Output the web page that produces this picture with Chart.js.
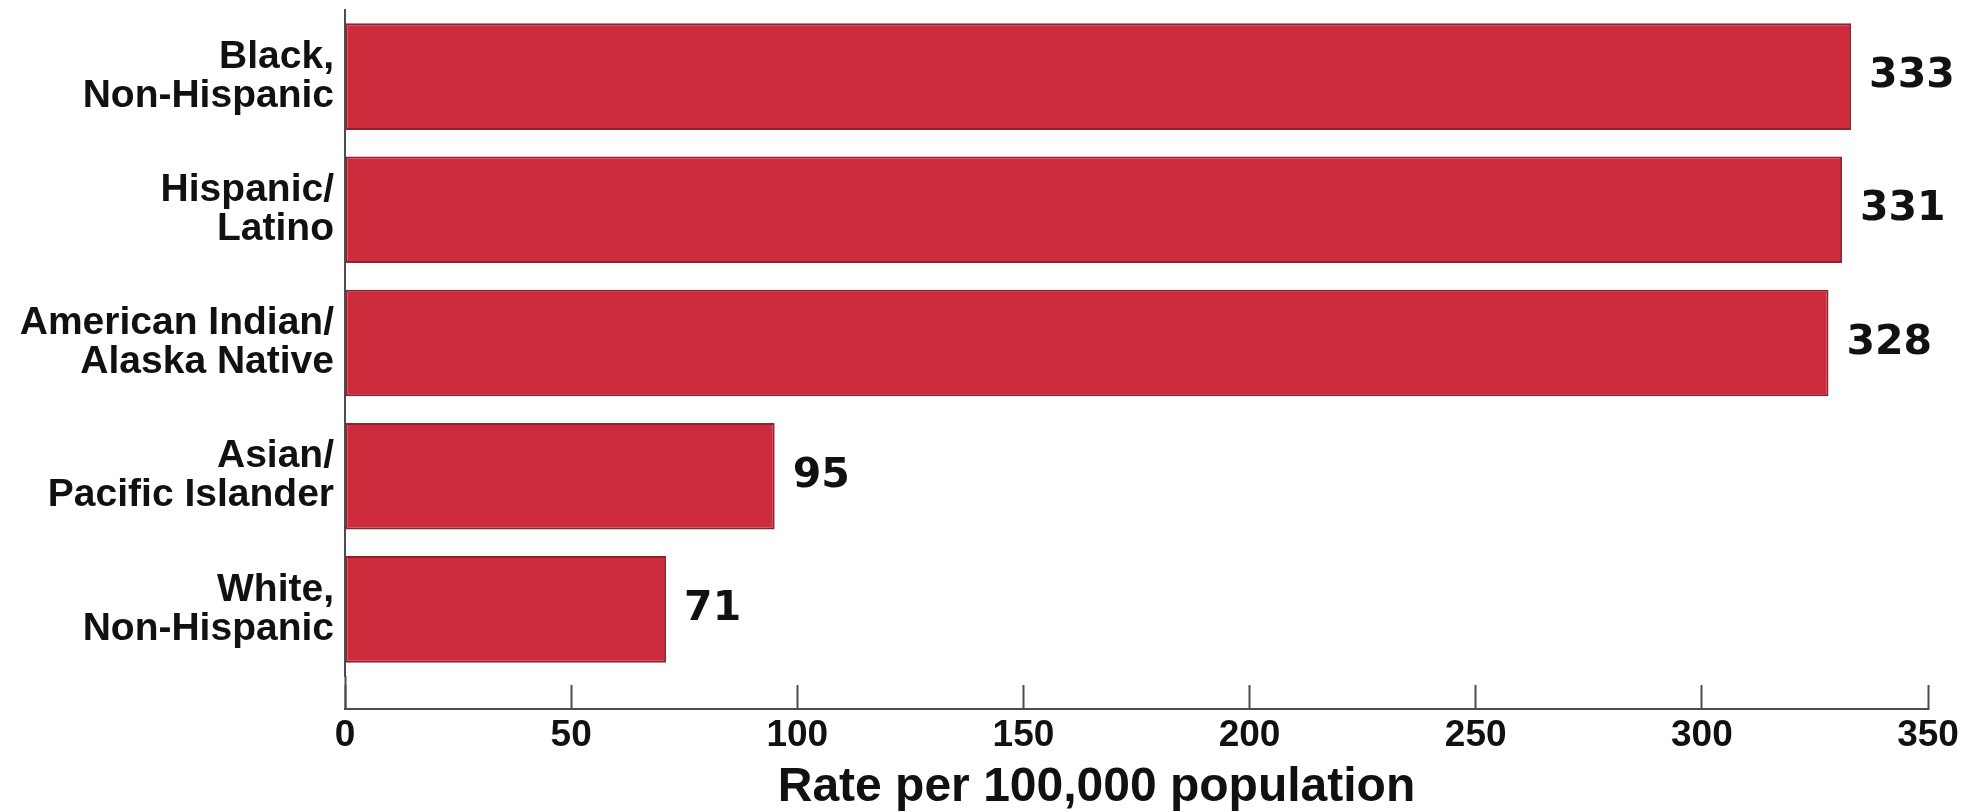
<!DOCTYPE html>
<html>
<head>
<meta charset="utf-8">
<script src="https://cdn.jsdelivr.net/npm/chart.js@4.4.0/dist/chart.umd.min.js"></script>
<style>
    html, body { margin: 0; padding: 0; background: #ffffff; }
    #wrap { width: 1967px; height: 812px; }
</style>
</head>
<body>
<div id="wrap"><canvas id="rate-chart" width="1967" height="812"></canvas></div>
<script>
// Chart data
const groups = [
    ['Black,', 'Non-Hispanic'],
    ['Hispanic/', 'Latino'],
    ['American Indian/', 'Alaska Native'],
    ['Asian/', 'Pacific Islander'],
    ['White,', 'Non-Hispanic']
];
const rates = [333, 331, 328, 95, 71];
const rateTicks = [0, 50, 100, 150, 200, 250, 300, 350];
const axisTitle = 'Rate per 100,000 population';

(function() {
    'use strict';

    const colors = {
        bar: '#CD2C3D',
        barEdge: '#8F2231',
        axis: '#4d4d4d',
        text: '#111111'
    };
    const fontFamily = '"Liberation Sans", Arial, Helvetica, sans-serif';

    // Value labels at the end of each bar
    const valueLabels = {
        id: 'valueLabels',
        afterDatasetsDraw(chart) {
            const ctx = chart.ctx;
            const meta = chart.getDatasetMeta(0);
            ctx.save();
            ctx.font = 'bold 41px "DejaVu Sans", sans-serif';
            ctx.fillStyle = colors.text;
            ctx.textAlign = 'left';
            ctx.textBaseline = 'middle';
            meta.data.forEach(function(bar, i) {
                ctx.fillText(String(rates[i]), bar.x + 18, bar.y);
            });
            ctx.restore();
        }
    };

    // drop the auto padding chart.js adds for labels overhanging the area
    function noPadding(scale) {
        scale.paddingTop = 0;
        scale.paddingBottom = 0;
        scale.paddingLeft = 0;
        scale.paddingRight = 0;
    }

    const canvas = document.getElementById('rate-chart');

    new Chart(canvas.getContext('2d'), {
        type: 'bar',
        data: {
            labels: groups,
            datasets: [{
                data: rates,
                backgroundColor: colors.bar,
                borderColor: colors.barEdge,
                borderWidth: 2,
                borderSkipped: false,
                barPercentage: 0.8,
                categoryPercentage: 1.0,
                xAxisID: 'x',
                yAxisID: 'y'
            }]
        },
        options: {
            indexAxis: 'y',
            responsive: false,
            animation: false,
            layout: {
                padding: { top: 10, right: 39, bottom: 0, left: 0 }
            },
            plugins: {
                legend: { display: false },
                tooltip: { enabled: false }
            },
            scales: {
                y: {
                    type: 'category',
                    position: 'left',
                    afterFit: function(scale) {
                        scale.width = 345;
                        noPadding(scale);
                    },
                    grid: { display: true, drawOnChartArea: false, drawTicks: false },
                    border: { display: true, color: colors.axis, width: 2 },
                    ticks: {
                        color: colors.text,
                        padding: 11,
                        font: { family: fontFamily, size: 39, weight: 'bold', lineHeight: 1.0 }
                    }
                },
                // data scale: only extends the y axis line down to the x axis
                x: {
                    type: 'linear',
                    position: 'bottom',
                    weight: 0,
                    min: 0,
                    max: 350,
                    afterFit: function(scale) {
                        scale.height = 33;
                        noPadding(scale);
                    },
                    grid: {
                        drawOnChartArea: false,
                        drawTicks: true,
                        tickLength: 33,
                        tickWidth: 2,
                        tickColor: function(c) {
                            return c.tick && c.tick.value === 0 ? colors.axis : 'rgba(0,0,0,0)';
                        }
                    },
                    border: { display: false },
                    ticks: { display: false, stepSize: 50 }
                },
                // visible x axis with inward ticks
                x2: {
                    type: 'linear',
                    position: 'bottom',
                    weight: 1,
                    min: 0,
                    max: 350,
                    afterFit: function(scale) {
                        scale.height = 103;
                        noPadding(scale);
                    },
                    afterBuildTicks: function(scale) {
                        scale.ticks = rateTicks.map(function(v) { return { value: v }; });
                    },
                    grid: {
                        drawOnChartArea: false,
                        drawTicks: true,
                        tickLength: -24,
                        tickWidth: 2,
                        tickColor: colors.axis
                    },
                    border: { display: true, color: colors.axis, width: 2 },
                    ticks: {
                        color: colors.text,
                        padding: 29,
                        maxRotation: 0,
                        font: { family: fontFamily, size: 37, weight: 'bold' }
                    },
                    title: {
                        display: true,
                        text: axisTitle + '      ',
                        color: colors.text,
                        padding: { top: 0, bottom: -5 },
                        font: { family: fontFamily, size: 48, weight: 'bold' }
                    }
                }
            }
        },
        plugins: [valueLabels]
    });
})();
</script>
</body>
</html>
